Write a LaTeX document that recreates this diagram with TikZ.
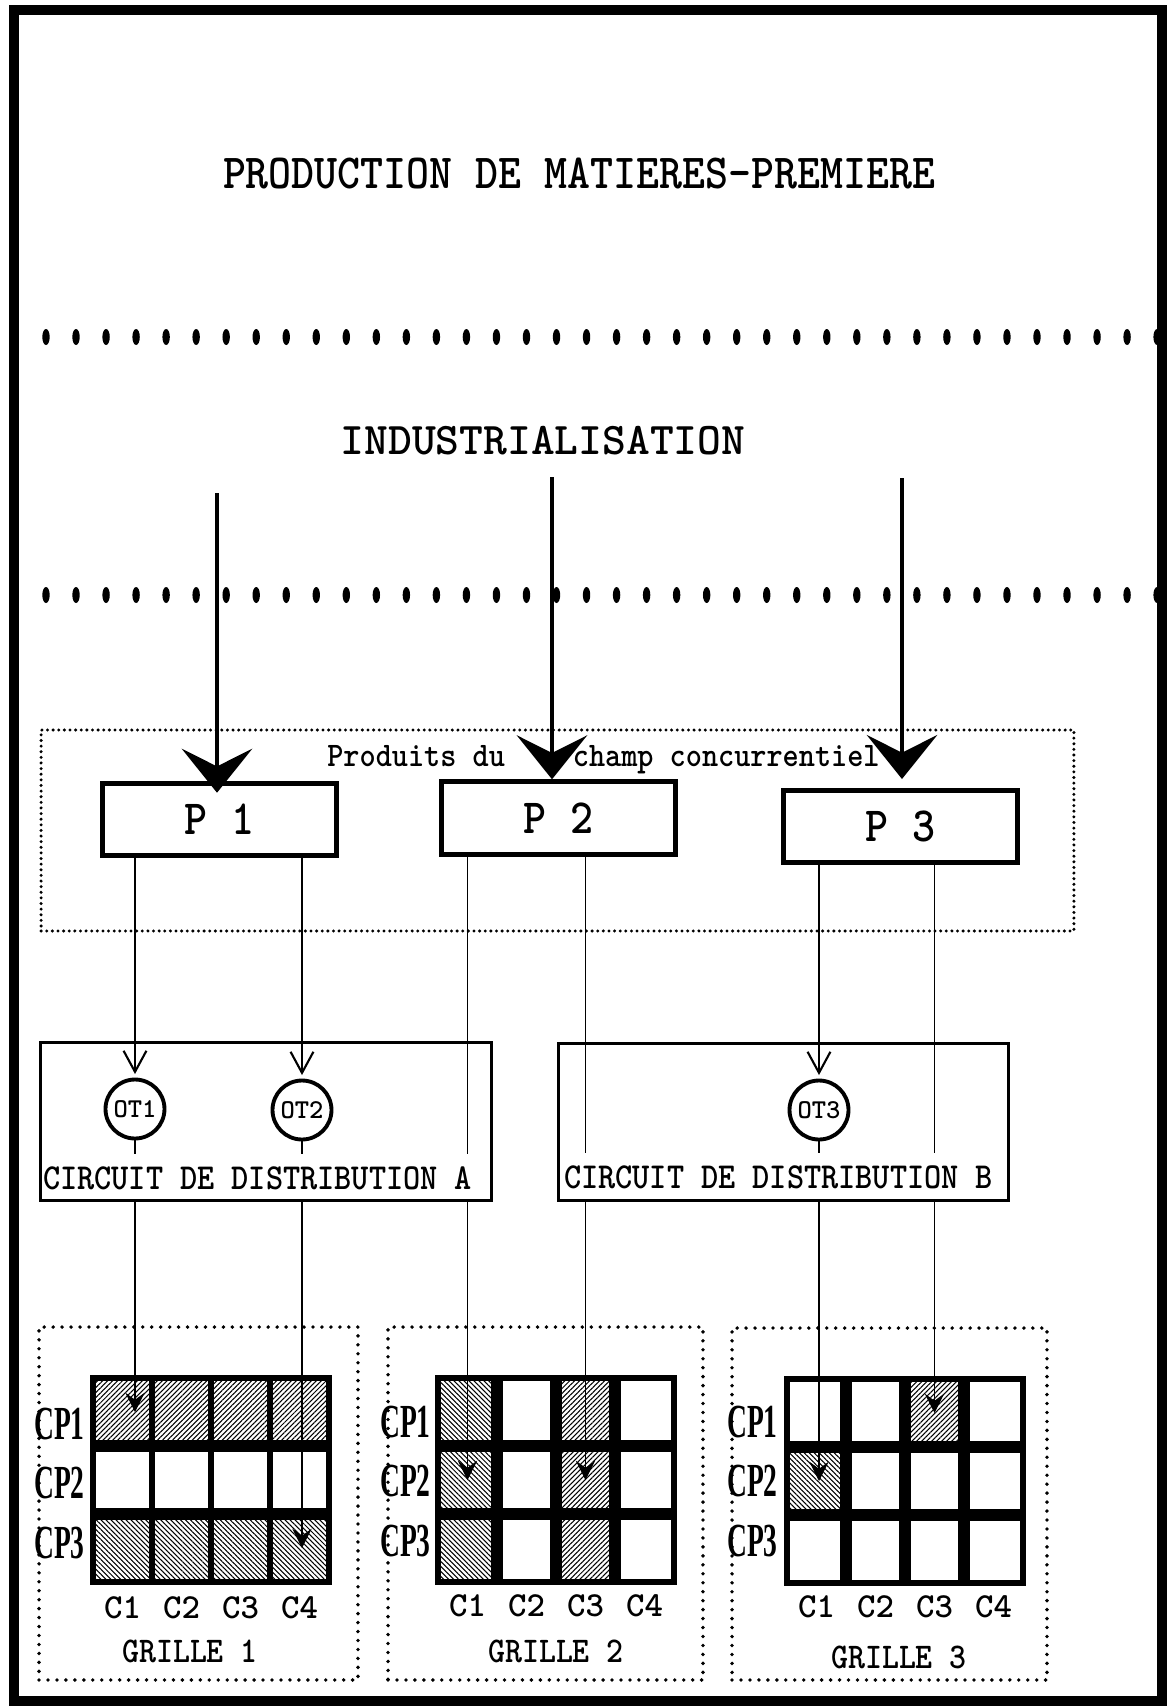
\documentclass[tikz,border=0pt]{standalone}
\usepackage{fontspec}
\setmainfont{Liberation Mono}
\newfontfamily\courier{lmmonolt10-bold.otf}
\newfontfamily\cpfont{Liberation Serif}
\usetikzlibrary{arrows.meta,patterns.meta}

\newcommand\haut[1]{\scalebox{1}[1.12]{#1}}
\newcommand\etroit[1]{\scalebox{0.58}[1]{#1}}

\tikzset{
  pbox/.style={draw, line width=2.8pt, minimum width=4.68cm, minimum height=1.45cm, inner sep=0pt, font=\courier\fontsize{25}{26}\selectfont},
  otnode/.style={draw, circle, line width=2.2pt, minimum size=1.18cm, inner sep=0pt, font=\courier\fontsize{15.5}{16}\selectfont},
  circuit/.style={draw, line width=1.7pt, inner sep=0pt},
  circuittext/.style={fill=white, anchor=base west, inner xsep=1pt, inner ysep=0pt, text height=0.7cm, text depth=0.24cm, font=\courier\fontsize{18.6}{20}\selectfont},
  dotbox/.style={draw, line width=1.9pt, dash pattern=on 0pt off 3.2pt, line cap=round, inner sep=0pt},
  griddots/.style={draw, line width=2.2pt, dash pattern=on 0pt off 5.1pt, line cap=round, inner sep=0pt},
  big/.style={line width=2.8pt, -{Stealth[length=25pt, width=40pt, inset=10pt]}},
  fil/.style={line width=0.7pt},
  filot/.style={fil, -{Straight Barb[length=12pt, width=13pt, line width=1.2pt]}},
  filcase/.style={fil, -{Stealth[length=11pt, width=11pt, inset=4pt]}},
  hatchNE/.style={pattern={Lines[angle=45, distance=2pt, line width=0.6pt]}},
  hatchNW/.style={pattern={Lines[angle=-45, distance=2pt, line width=0.6pt]}},
  clabel/.style={font=\courier\fontsize{20}{21}\selectfont, inner sep=0pt},
  cplabel/.style={font=\cpfont\fontsize{27}{28}\selectfont\bfseries, inner sep=0pt, anchor=east},
  grille/.style={font=\courier\fontsize{18.4}{19}\selectfont, inner sep=0pt},
}

\begin{document}
\begin{tikzpicture}[x=0.02cm, y=-0.02cm]
    \useasboundingbox (0,0) rectangle (1167,1707);

    %% frame
    \draw[line width=6pt] (14,10) rectangle (1162,1701);

    %% titles
    \node (titre) at (579,174) {\courier\fontsize{24.9}{26}\selectfont\haut{PRODUCTION DE MATIERES-PREMIERE}};
    \node (indus) at (543,441) {\courier\fontsize{25.8}{26}\selectfont INDUSTRIALISATION};

    %% dotted separators
    \foreach \i in {0,...,37} {
      \fill ({46+30.03*\i},337) ellipse [x radius=3.7, y radius=8];
      \fill ({46+30.03*\i},595) ellipse [x radius=3.7, y radius=8];
    }

    %% products
    \node[dotbox, minimum width=20.66cm, minimum height=4.02cm] (champ) at (557.5,830.5) {};
    \node[anchor=base west, inner sep=0pt, font=\courier\fontsize{17.5}{18}\selectfont] (champtxt) at (327,766) {\haut{Produits du\hspace{1.36cm}champ concurrentiel}};

    \node[pbox] (P1) at (219.5,819.5) {\haut{P 1}};
    \node[pbox] (P2) at (558.5,818) {\haut{P 2}};
    \node[pbox] (P3) at (900.5,826.5) {\haut{P 3}};

    \coordinate (s1) at (217,493);
    \coordinate (s2) at (552,477);
    \coordinate (s3) at (902,478);
    \draw[big, shorten >=-6.8pt] (s1) -- (s1 |- P1.north);
    \draw[big] (s2) -- (s2 |- P2.north);
    \draw[big, shorten >=5pt] (s3) -- (s3 |- P3.north);

    %% OT
    \node[otnode] (OT1) at (135,1109) {OT1};
    \node[otnode] (OT2) at (302,1110) {OT2};
    \node[otnode] (OT3) at (819,1110) {OT3};

    \draw[filot, shorten >=2pt] (P1.south -| OT1) -- (OT1);
    \draw[filot, shorten >=2pt] (P1.south -| OT2) -- (OT2);
    \draw[filot, shorten >=2pt] (P3.south -| OT3) -- (OT3);

    %% grid 1
    \node[griddots, minimum width=6.38cm, minimum height=7.06cm] (G1) at (198.5,1503.5) {};
    \fill[hatchNE] (93,1378) rectangle (329,1446);
    \fill[hatchNW] (93,1514) rectangle (329,1582);
    \draw[line width=3.2pt] (93,1378) rectangle (329,1582);
    \foreach \k in {1,2,3} \draw[line width=3pt] ({93+59*\k},1378) -- ({93+59*\k},1582);
    \foreach \k in {1,2} \draw[line width=6.8pt] (93,{1378+68*\k}) -- (329,{1378+68*\k});
    \foreach \row in {1,2,3} \foreach \col in {1,...,4}
      \coordinate (g1-\row-\col) at ({63.5+59*\col},{1344+68*\row});
    \foreach \col in {1,...,4} \node[clabel] (g1-C\col) at ({63.5+59*\col},1608) {C\col};
    \foreach \row in {1,2,3} \node[cplabel] (g1-CP\row) at (85,{1424+59.5*(\row-1)}) {\etroit{CP\row}};
    \node[grille] (g1-nom) at (190,1651) {\haut{GRILLE 1}};

    %% grid 2
    \node[griddots, minimum width=6.3cm, minimum height=7.06cm] (G2) at (545.5,1503.5) {};
    \fill[hatchNW] (438,1378) rectangle (497,1582);
    \fill[hatchNE] (556,1378) rectangle (615,1582);
    \draw[line width=3.2pt] (438,1378) rectangle (674,1582);
    \foreach \k in {1,2,3} \draw[line width=6.5pt] ({438+59*\k},1378) -- ({438+59*\k},1582);
    \foreach \k in {1,2} \draw[line width=6.5pt] (438,{1378+68*\k}) -- (674,{1378+68*\k});
    \foreach \row in {1,2,3} \foreach \col in {1,...,4}
      \coordinate (g2-\row-\col) at ({408.5+59*\col},{1344+68*\row});
    \foreach \col in {1,...,4} \node[clabel] (g2-C\col) at ({408.5+59*\col},1606) {C\col};
    \foreach \row in {1,2,3} \node[cplabel] (g2-CP\row) at (431,{1422+59.5*(\row-1)}) {\etroit{CP\row}};
    \node[grille] (g2-nom) at (556,1651) {\haut{GRILLE 2}};

    %% grid 3
    \node[griddots, minimum width=6.3cm, minimum height=7.04cm] (G3) at (889.5,1504) {};
    \fill[hatchNE] (905,1379) rectangle (964,1447);
    \fill[hatchNW] (787,1447) rectangle (846,1515);
    \draw[line width=3.2pt] (787,1379) rectangle (1023,1583);
    \foreach \k in {1,2,3} \draw[line width=6.5pt] ({787+59*\k},1379) -- ({787+59*\k},1583);
    \foreach \k in {1,2} \draw[line width=6.5pt] (787,{1379+68*\k}) -- (1023,{1379+68*\k});
    \foreach \row in {1,2,3} \foreach \col in {1,...,4}
      \coordinate (g3-\row-\col) at ({757.5+59*\col},{1345+68*\row});
    \foreach \col in {1,...,4} \node[clabel] (g3-C\col) at ({757.5+59*\col},1607) {C\col};
    \foreach \row in {1,2,3} \node[cplabel] (g3-CP\row) at (778,{1422+59.5*(\row-1)}) {\etroit{CP\row}};
    \node[grille] (g3-nom) at (899,1657) {\haut{GRILLE 3}};

    %% links to the grids
    \draw[filcase] (OT1) -- (OT1 |- g1-1-1);
    \draw[filcase] (OT2) -- (OT2 |- g1-3-4);
    \draw[filcase] (P2.south -| g2-2-1) -- (g2-2-1);
    \draw[filcase] (P2.south -| g2-2-3) -- (g2-2-3);
    \draw[filcase] (OT3) -- (OT3 |- g3-2-1);
    \draw[filcase] (P3.south -| g3-1-3) -- (g3-1-3);

    %% distribution circuits
    \node[circuittext] (txtA) at (41,1189) {\haut{CIRCUIT DE DISTRIBUTION A}};
    \node[circuittext] (txtB) at (562,1188) {\haut{CIRCUIT DE DISTRIBUTION B}};
    \node[circuit, minimum width=9.02cm, minimum height=3.16cm] (cdA) at (266,1121.5) {};
    \node[circuit, minimum width=9.0cm, minimum height=3.14cm] (cdB) at (783.5,1122) {};
\end{tikzpicture}
\end{document}
